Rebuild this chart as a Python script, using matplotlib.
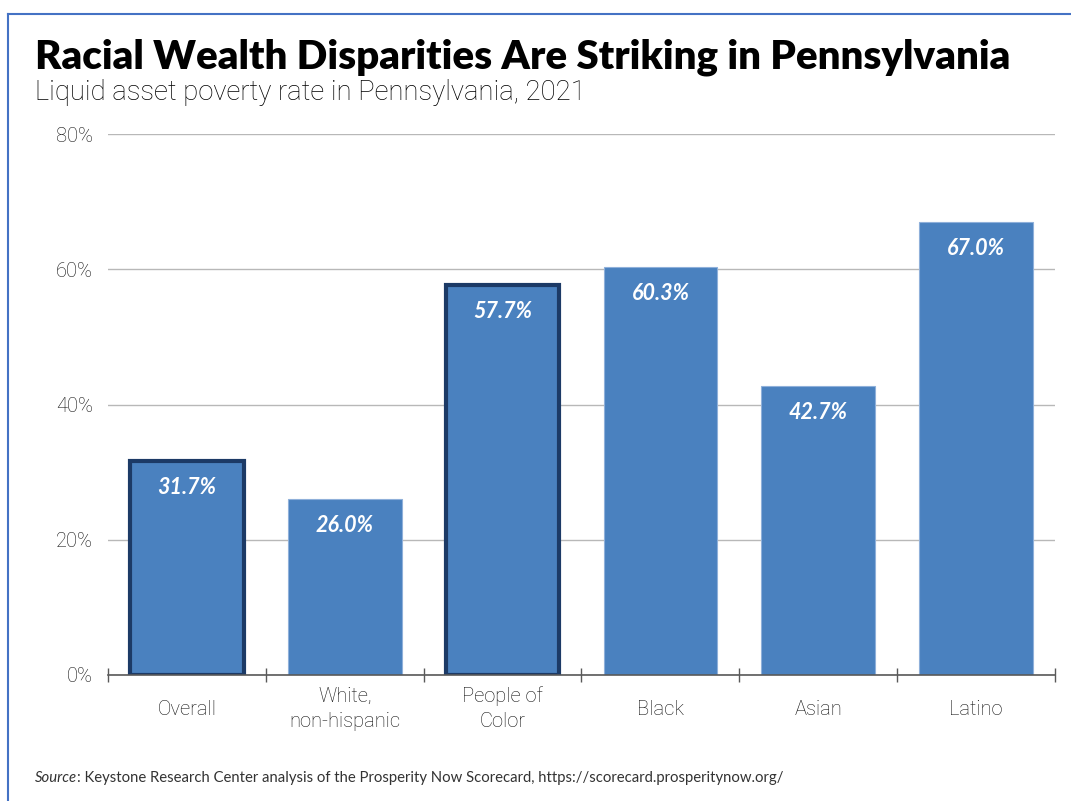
import matplotlib
matplotlib.use("Agg")
import matplotlib.pyplot as plt
from matplotlib.lines import Line2D
import numpy as np

categories = ["Overall", "White,\nnon-hispanic", "People of\nColor", "Black", "Asian", "Latino"]
rates = [31.7, 26.0, 57.7, 60.3, 42.7, 67.0]
highlighted = [True, False, True, False, False, False]
yticks = [0, 20, 40, 60, 80]

title = "Racial Wealth Disparities Are Striking in Pennsylvania"
subtitle = "Liquid asset poverty rate in Pennsylvania, 2021"
source_lead = "Source"
source_rest = ": Keystone Research Center analysis of the Prosperity Now Scorecard, https://scorecard.prosperitynow.org/"

bar_color = "#4a81bf"
outline_color = "#1c3a66"
text_gray = "#333333"
light_family = "Roboto"

fig = plt.figure(figsize=(10.71, 8.01), dpi=100)
ax = fig.add_axes([108 / 1071, 126 / 801, (1055 - 108) / 1071, 541 / 801])

x = np.arange(len(categories))
for xi, val, hl in zip(x, rates, highlighted):
    if hl:
        ax.bar(xi, val, width=0.72, color=bar_color, edgecolor=outline_color,
               linewidth=3, zorder=3)
    else:
        ax.bar(xi, val, width=0.72, color=bar_color, edgecolor="#8fb0da",
               linewidth=0.8, zorder=3)
    ax.annotate(f"{val:.1f}%", xy=(xi, val), xytext=(0, -19),
                textcoords="offset points", ha="center", va="center",
                color="white", fontsize=15.5, fontstyle="italic",
                fontweight="bold", family="Lato", zorder=4)

ax.set_xlim(-0.5, len(categories) - 0.5)
ax.set_ylim(0, 80)
ax.set_yticks(yticks)
ax.set_yticklabels([f"{t}%" for t in yticks])
ax.yaxis.grid(True, color="#b8b8b8", linewidth=1)
ax.set_axisbelow(True)

ax.set_xticks(x)
ax.set_xticklabels(categories, va="center", linespacing=1.4)
ax.set_xticks(np.arange(-0.5, len(categories)), minor=True)
ax.tick_params(axis="x", which="major", length=0, pad=24.5)
ax.tick_params(axis="x", which="minor", length=10, direction="inout",
               color="#595959", width=1)
ax.tick_params(axis="y", length=0, pad=11)

for lbl in ax.get_xticklabels() + ax.get_yticklabels():
    lbl.set_family(light_family)
    lbl.set_fontweight("light")
    lbl.set_fontsize(14.5)
    lbl.set_color("#111111")

for side in ["top", "right", "left"]:
    ax.spines[side].set_visible(False)
ax.spines["bottom"].set_color("#595959")
ax.spines["bottom"].set_linewidth(1.2)
ax.spines["bottom"].set_zorder(5)

fig.text(35 / 1071, 1 - 57 / 801, title, fontsize=29, fontweight="heavy",
         family="Lato", color="black", va="center", ha="left")
fig.text(35 / 1071, 1 - 93 / 801, subtitle, fontsize=19.8, fontweight="light",
         family=light_family, color="black", va="center", ha="left")

src = fig.text(35 / 1071, 1 - 778 / 801, source_lead, fontsize=10.7,
               fontstyle="italic", family="Lato", color=text_gray,
               va="center", ha="left")
fig.canvas.draw()
bb = src.get_window_extent()
fig.text(bb.x1 / fig.bbox.width, 1 - 778 / 801, source_rest, fontsize=10.7,
         family="Lato", color=text_gray, va="center", ha="left")

frame_color = "#4472c4"
fig.add_artist(Line2D([8 / 1071, 1.0], [1 - 14 / 801, 1 - 14 / 801],
                      transform=fig.transFigure, color=frame_color, linewidth=1.5))
fig.add_artist(Line2D([8 / 1071, 8 / 1071], [0.0, 1 - 14 / 801],
                      transform=fig.transFigure, color=frame_color, linewidth=1.5))

fig.savefig("out.png", dpi=100)
